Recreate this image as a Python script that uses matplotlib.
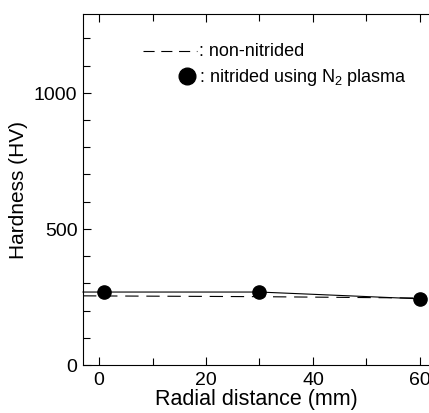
import matplotlib
matplotlib.use("Agg")
import matplotlib.pyplot as plt
from matplotlib.ticker import MultipleLocator

plt.rcParams['font.family'] = ['Liberation Sans', 'DejaVu Sans']
plt.rcParams['mathtext.fontset'] = 'custom'
plt.rcParams['mathtext.rm'] = 'Liberation Sans'
plt.rcParams['mathtext.it'] = 'Liberation Sans'

# Hardness profiles along the radius (first point of each curve starts at the axis)
nitrided_x = [-3, 1, 30, 60]
nitrided_hv = [268, 268, 268, 243]
plain_x = [-3, 30, 60]
plain_hv = [254, 251, 246]

x_ticks = [0, 20, 40, 60]
y_ticks = [0, 500, 1000]

fig = plt.figure(figsize=(4.29, 4.14), dpi=100)
ax = fig.add_axes([0.1935, 0.116, 0.8065, 0.848])

dash = (0, (12, 7))
ax.plot(plain_x, plain_hv, color='black', lw=0.8, ls=dash)
ax.plot(nitrided_x, nitrided_hv, color='black', lw=0.8, marker='o', ms=9.5,
        markevery=[1, 2, 3], clip_on=False)

ax.set_xlim(-3, 61.7)
ax.set_ylim(0, 1290)
ax.set_xticks(x_ticks)
ax.set_yticks(y_ticks)
ax.xaxis.set_minor_locator(MultipleLocator(10))
ax.yaxis.set_minor_locator(MultipleLocator(100))
ax.tick_params(which='both', direction='in', top=True, right=False,
               labelsize=14, width=0.8, pad=4)
ax.tick_params(which='major', length=6)
ax.tick_params(which='minor', length=5)
ax.spines['right'].set_visible(False)
for s in ('left', 'bottom', 'top'):
    ax.spines[s].set_linewidth(0.8)

ax.set_xlabel('Radial distance (mm)', fontsize=15.5, labelpad=0)
ax.set_ylabel('Hardness (HV)', fontsize=15, labelpad=4)

# Key drawn inside the axes
ax.plot([0.173, 0.329], [0.895, 0.895], transform=ax.transAxes,
        color='black', lw=0.8, ls=(0, (10, 6)))
ax.text(0.336, 0.895, ': non-nitrided', transform=ax.transAxes,
        fontsize=13, va='center', ha='left')
ax.plot([0.30], [0.823], transform=ax.transAxes, color='black',
        marker='o', ms=12)
ax.text(0.336, 0.823, r': nitrided using N$_\mathrm{2}$ plasma',
        transform=ax.transAxes, fontsize=13, va='center', ha='left')

fig.savefig('out.png', dpi=100)
